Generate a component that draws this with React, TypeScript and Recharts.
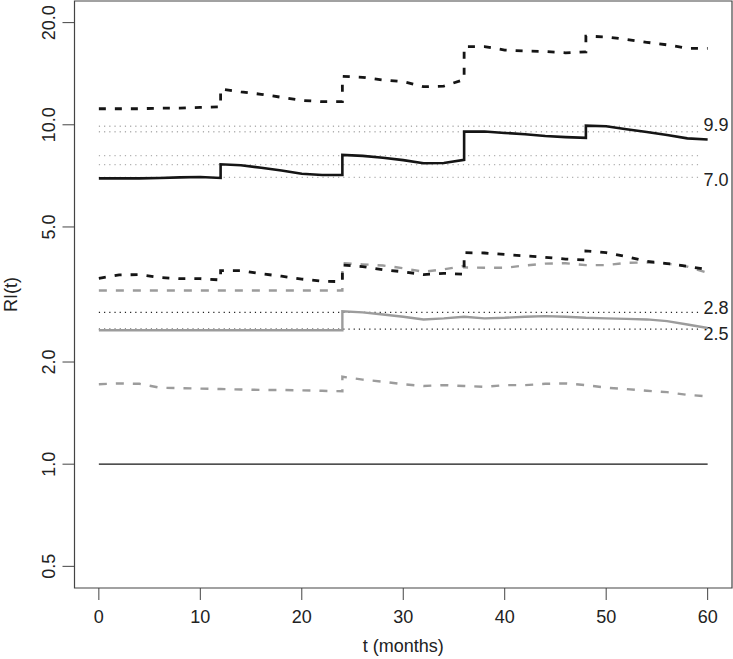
import {
  LineChart,
  Line,
  XAxis,
  YAxis,
  ReferenceLine,
  ReferenceArea,
} from 'recharts';

// time grid in months (jump points appear twice)
const months = [
  0, 2, 4, 6, 8, 10, 12,
  12, 14, 16, 18, 20, 22, 24,
  24, 26, 28, 30, 32, 34, 36,
  36, 38, 40, 42, 44, 46, 48,
  48, 50, 52, 54, 56, 58, 60,
];

const topDash = [
  11.15, 11.15, 11.15, 11.2, 11.2, 11.25, 11.3,
  12.75, 12.5, 12.3, 12.05, 11.8, 11.7, 11.7,
  13.9, 13.8, 13.55, 13.4, 12.95, 13.0, 13.6,
  17.0, 17.0, 16.6, 16.5, 16.45, 16.3, 16.4,
  18.25, 18.15, 17.85, 17.5, 17.2, 16.8, 16.8,
];

const midSolid = [
  6.95, 6.95, 6.95, 6.97, 7.0, 7.02, 6.97,
  7.65, 7.6, 7.47, 7.33, 7.17, 7.11, 7.11,
  8.15, 8.1, 8.0, 7.87, 7.7, 7.72, 7.88,
  9.55, 9.55, 9.46, 9.38, 9.27, 9.2, 9.15,
  9.94, 9.9, 9.7, 9.52, 9.33, 9.12, 9.05,
];

const lowDash = [
  3.53, 3.61, 3.62, 3.55, 3.52, 3.52, 3.49,
  3.72, 3.72, 3.64, 3.58, 3.51, 3.46, 3.45,
  3.86, 3.82, 3.74, 3.69, 3.62, 3.65, 3.63,
  4.2, 4.19, 4.15, 4.11, 4.07, 4.02, 4.0,
  4.25, 4.2, 4.09, 3.96, 3.9, 3.83, 3.74,
];

const grayDashHi = [
  3.25, 3.25, 3.25, 3.25, 3.25, 3.25, 3.25,
  3.25, 3.25, 3.25, 3.25, 3.25, 3.25, 3.25,
  3.91, 3.88, 3.85, 3.78, 3.69, 3.75, 3.84,
  3.8, 3.79, 3.79, 3.85, 3.9, 3.91, 3.86,
  3.86, 3.86, 3.92, 3.93, 3.9, 3.82, 3.66,
];

const graySolid = [
  2.48, 2.48, 2.48, 2.48, 2.48, 2.48, 2.48,
  2.48, 2.48, 2.48, 2.48, 2.48, 2.48, 2.48,
  2.82, 2.8, 2.76, 2.72, 2.67, 2.69, 2.72,
  2.72, 2.69, 2.7, 2.72, 2.73, 2.72, 2.7,
  2.7, 2.69, 2.68, 2.67, 2.64, 2.58, 2.52,
];

const grayDashLo = [
  1.72, 1.73, 1.725, 1.68, 1.675, 1.67, 1.665,
  1.665, 1.66, 1.655, 1.655, 1.65, 1.645, 1.64,
  1.81, 1.775, 1.75, 1.72, 1.7, 1.71, 1.7,
  1.7, 1.69, 1.71, 1.71, 1.725, 1.73, 1.71,
  1.71, 1.68, 1.665, 1.645, 1.63, 1.6, 1.585,
];

const xTicks = [0, 10, 20, 30, 40, 50, 60];
const yTicks = [0.5, 1, 2, 5, 10, 20];

// dotted reference levels
const grayLevels = [9.9, 9.54, 8.11, 7.63, 7.0];
const blackLevels = [2.8, 2.5];
const levelLabels = ['9.9', '', '', '', '7.0'];
const blackLabels = ['2.8', '2.5'];
const labelShift = { '9.9': -2, '7.0': 2, '2.8': -4.5, '2.5': 4 } as Record<string, number>;

const FONT = '"Liberation Sans", Arial, Helvetica, sans-serif';
const GRAY = '#9c9c9c';
const INK = '#151515';

const data = months.map((t, i) => ({
  t,
  topDash: topDash[i],
  midSolid: midSolid[i],
  lowDash: lowDash[i],
  grayDashHi: grayDashHi[i],
  graySolid: graySolid[i],
  grayDashLo: grayDashLo[i],
}));

const YTick = (props: any) => {
  const { x, y, payload } = props;
  const bx = x - 7.5;
  return (
    <text
      x={bx}
      y={y}
      transform={`rotate(-90 ${bx} ${y})`}
      textAnchor="middle"
      fontSize={18}
      fontFamily={FONT}
      fill="#222"
    >
      {Number(payload.value).toFixed(1)}
    </text>
  );
};

const levelLabel = (text: string) => (props: any) => {
  if (!text) return null;
  const vb = props.viewBox;
  return (
    <text
      x={vb.x + vb.width + 3}
      y={vb.y + labelShift[text] + 6.4}
      fontSize={18}
      fontFamily={FONT}
      fill="#222"
    >
      {text}
    </text>
  );
};

export default function App() {
  return (
    <div style={{ position: 'absolute', left: 0, top: 0, background: '#fff' }}>
      <LineChart
        width={733}
        height={659}
        data={data}
        margin={{ top: 1, right: 1, bottom: 0, left: 0 }}
      >
        <XAxis
          dataKey="t"
          type="number"
          domain={[-2.4, 62.4]}
          ticks={xTicks}
          allowDataOverflow
          height={71}
          axisLine={false}
          tickLine={{ stroke: '#444' }}
          tickSize={12}
          tickMargin={10}
          tick={{ fontSize: 18, fontFamily: FONT, fill: '#222' }}
          label={{
            content: (p: any) => (
              <text
                x={p.viewBox.x + p.viewBox.width / 2}
                y={652}
                textAnchor="middle"
                fontSize={18}
                fontFamily={FONT}
                fill="#222"
              >
                t (months)
              </text>
            ),
          }}
        />
        <YAxis
          type="number"
          scale="log"
          domain={[0.4317, 23.16]}
          allowDataOverflow
          ticks={yTicks}
          width={74.5}
          axisLine={false}
          tickLine={{ stroke: '#444' }}
          tickSize={12}
          tickMargin={0}
          tick={<YTick />}
          label={{
            content: (p: any) => {
              const cy = p.viewBox.y + p.viewBox.height / 2;
              return (
                <text
                  x={17}
                  y={cy}
                  transform={`rotate(-90 17 ${cy})`}
                  textAnchor="middle"
                  fontSize={18}
                  fontFamily={FONT}
                  fill="#222"
                >
                  RI(t)
                </text>
              );
            },
          }}
        />

        <ReferenceArea
          x1={-2.4}
          x2={62.4}
          y1={0.4317}
          y2={23.16}
          fill="none"
          stroke="#444"
          strokeWidth={1.2}
          ifOverflow="visible"
        />

        {grayLevels.map((v, i) => (
          <ReferenceLine
            key={'g' + v}
            segment={[{ x: 0, y: v }, { x: 59.3, y: v }]}
            stroke="#b0b0b0"
            strokeWidth={1.3}
            strokeDasharray="1.2 4"
            label={{ content: levelLabel(levelLabels[i]) }}
          />
        ))}
        {blackLevels.map((v, i) => (
          <ReferenceLine
            key={'b' + v}
            segment={[{ x: 0, y: v }, { x: 59.3, y: v }]}
            stroke="#222"
            strokeWidth={1.3}
            strokeDasharray="1.2 4"
            label={{ content: levelLabel(blackLabels[i]) }}
          />
        ))}
        <ReferenceLine
          segment={[{ x: 0, y: 1 }, { x: 60, y: 1 }]}
          stroke={INK}
          strokeWidth={1.3}
        />

        <Line dataKey="grayDashLo" type="linear" stroke={GRAY} strokeWidth={2.4} strokeDasharray="8 9" dot={false} isAnimationActive={false} />
        <Line dataKey="graySolid" type="linear" stroke={GRAY} strokeWidth={2.4} dot={false} isAnimationActive={false} />
        <Line dataKey="grayDashHi" type="linear" stroke={GRAY} strokeWidth={2.4} strokeDasharray="8 9" dot={false} isAnimationActive={false} />
        <Line dataKey="lowDash" type="linear" stroke={INK} strokeWidth={2.8} strokeDasharray="7 9" dot={false} isAnimationActive={false} />
        <Line dataKey="midSolid" type="linear" stroke={INK} strokeWidth={2.6} dot={false} isAnimationActive={false} />
        <Line dataKey="topDash" type="linear" stroke={INK} strokeWidth={2.8} strokeDasharray="7 9" dot={false} isAnimationActive={false} />
      </LineChart>
    </div>
  );
}
